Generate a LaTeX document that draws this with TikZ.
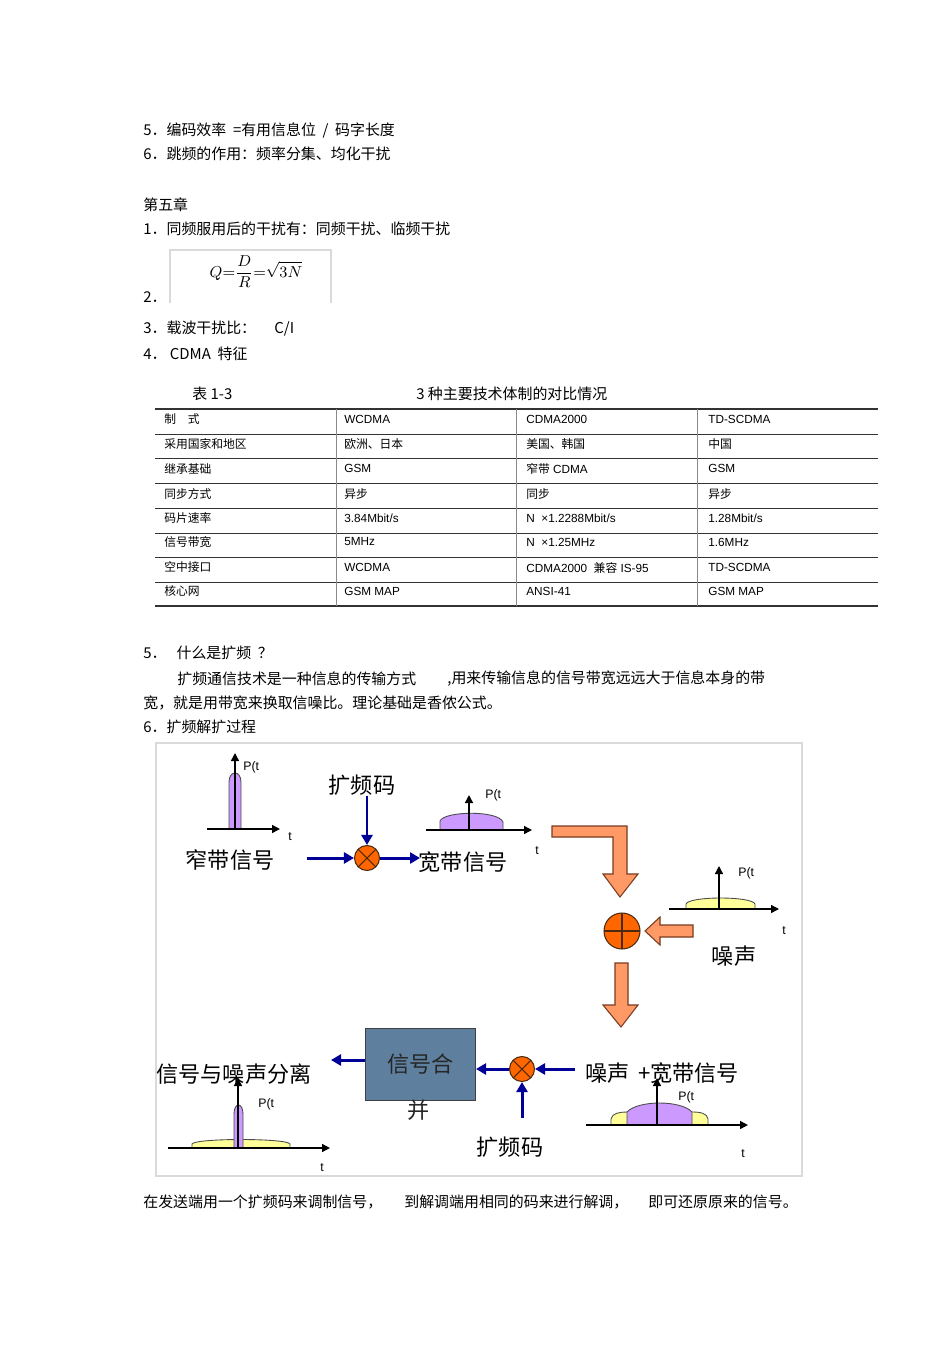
\documentclass[tikz,border=0pt]{standalone}
\usepackage{fontspec}
\setmainfont{Liberation Sans}
\newfontfamily\cjk{Noto Sans CJK SC}
\usepackage{xcolor}
\usetikzlibrary{arrows.meta}
\definecolor{xnavy}{HTML}{000099}
\definecolor{xsalmon}{HTML}{FF9966}
\definecolor{xrust}{HTML}{7A3B1E}
\definecolor{xorange}{HTML}{FF6600}
\definecolor{xdark}{HTML}{4A2A10}
\definecolor{xlilac}{HTML}{CC99FF}
\definecolor{xlemon}{HTML}{FFFF99}
\definecolor{xsteel}{HTML}{5E809E}
\definecolor{xframe}{HTML}{DADADA}
\definecolor{xgray}{HTML}{8A8A8A}

\begin{document}
\begin{tikzpicture}[
    x=0.02cm, y=-0.02cm,
    body/.style={anchor=west, inner sep=0pt, font=\fontsize{8.5}{10}\selectfont\cjk},
    cell/.style={anchor=west, inner sep=0pt, font=\fontsize{6.7}{8}\selectfont},
    big/.style={inner sep=0pt, font=\fontsize{12.6}{15}\selectfont\cjk},
    small/.style={inner sep=0pt, font=\fontsize{7}{8}\selectfont},
    formula/.style={inner sep=0pt, font=\fontsize{9.2}{11}\selectfont},
    pipe/.style={-{Triangle[length=0.2cm,width=0.22cm]}, line width=1.7pt, color=xnavy},
    axis/.style={-{Triangle[length=0.16cm,width=0.16cm]}, line width=0.8pt},
    lobe/.style={fill=#1, draw=black!70, line width=0.5pt},
    blockarrow/.style={fill=xsalmon, draw=xrust, line width=0.6pt},
    mixer/.style={circle, draw=xdark, fill=xorange, line width=0.6pt, minimum size=0.5cm, inner sep=0pt,
        path picture={\draw[xdark, line width=0.6pt]
            (path picture bounding box.north west) -- (path picture bounding box.south east)
            (path picture bounding box.north east) -- (path picture bounding box.south west);}},
    adder/.style={circle, draw=xdark, fill=xorange, line width=0.6pt, minimum size=0.72cm, inner sep=0pt,
        path picture={\draw[xdark, line width=0.6pt]
            (path picture bounding box.west) -- (path picture bounding box.east)
            (path picture bounding box.north) -- (path picture bounding box.south);}},
    rule/.style={line width=#1, color=black!80},
]

\useasboundingbox[fill=white] (0,0) rectangle (950,1345);

% --- Text above the table ---
\node[body] (l5) at (143,130) {5．编码效率 \ =有用信息位 \ / \ 码字长度};
\node[body] (l6) at (143,154) {6．跳频的作用：频率分集、均化干扰};
\node[body] (ch5) at (143,205) {第五章};
\node[body] (c1) at (143,229) {1．同频服用后的干扰有：同频干扰、临频干扰};
\draw[xframe, line width=0.6pt] (170,303) -- (170,250) -- (331,250) -- (331,303);
\node[formula] (qform) at (256,272) {$\displaystyle Q{=}\frac{D}{R}{=}\sqrt{3N}$};
\node[body] (c2) at (143,297) {2．};
\node[body] (c3) at (143,329) {3．载波干扰比： \quad C/I};
\node[body] (c4) at (143,354) {4． CDMA \ 特征};
\node[body] (tabno) at (192,394) {表 1-3};
\node[body] (tabtitle) at (416,394) {3 种主要技术体制的对比情况};

% --- Table ---
\draw[rule=1.1pt] (155,409) -- (878,409);
\foreach \ry in {434,458,483,508,533,557,582}
  \draw[rule=0.5pt] (155,\ry) -- (878,\ry);
\draw[rule=1.1pt] (155,606) -- (878,606);
\foreach \cx in {336,516,697}
  \draw[xgray, line width=0.5pt] (\cx,409) -- (\cx,606);

\node[cell] (r1a) at (164,419) {\cjk 制\quad 式};
\node[cell] (r1b) at (344,419) {WCDMA};
\node[cell] (r1c) at (526,419) {CDMA2000};
\node[cell] (r1d) at (708,419) {TD-SCDMA};
\node[cell] (r2a) at (164,444) {\cjk 采用国家和地区};
\node[cell] (r2b) at (344,444) {\cjk 欧洲、日本};
\node[cell] (r2c) at (526,444) {\cjk 美国、韩国};
\node[cell] (r2d) at (708,444) {\cjk 中国};
\node[cell] (r3a) at (164,469) {\cjk 继承基础};
\node[cell] (r3b) at (344,468) {GSM};
\node[cell] (r3c) at (526,469) {{\cjk 窄带} CDMA};
\node[cell] (r3d) at (708,468) {GSM};
\node[cell] (r4a) at (164,494) {\cjk 同步方式};
\node[cell] (r4b) at (344,494) {\cjk 异步};
\node[cell] (r4c) at (526,494) {\cjk 同步};
\node[cell] (r4d) at (708,494) {\cjk 异步};
\node[cell] (r5a) at (164,518) {\cjk 码片速率};
\node[cell] (r5b) at (344,518) {3.84Mbit/s};
\node[cell] (r5c) at (526,518) {N \ ×1.2288Mbit/s};
\node[cell] (r5d) at (708,518) {1.28Mbit/s};
\node[cell] (r6a) at (164,542) {\cjk 信号带宽};
\node[cell] (r6b) at (344,542) {5MHz};
\node[cell] (r6c) at (526,542) {N \ ×1.25MHz};
\node[cell] (r6d) at (708,542) {1.6MHz};
\node[cell] (r7a) at (164,567) {\cjk 空中接口};
\node[cell] (r7b) at (344,567) {WCDMA};
\node[cell] (r7c) at (526,568) {CDMA2000 \ {\cjk 兼容} IS-95};
\node[cell] (r7d) at (708,567) {TD-SCDMA};
\node[cell] (r8a) at (164,591) {\cjk 核心网};
\node[cell] (r8b) at (344,591) {GSM MAP};
\node[cell] (r8c) at (526,591) {ANSI-41};
\node[cell] (r8d) at (708,591) {GSM MAP};

% --- Text below the table ---
\node[body] (q5) at (143,653) {5． \ \ 什么是扩频 \ ？};
\node[body] (p1a) at (177,679) {扩频通信技术是一种信息的传输方式};
\node[body] (p1b) at (447,679) {,用来传输信息的信号带宽远远大于信息本身的带};
\node[body] (p2) at (143,703) {宽，就是用带宽来换取信噪比。理论基础是香侬公式。};
\node[body] (q6) at (143,727) {6．扩频解扩过程};

% --- Diagram frame ---
\draw[xframe, line width=0.6pt] (156,743) rectangle (802,1176);

% --- Spectra ---
% narrowband
\draw[lobe=xlilac] (229,829) -- (229,782) .. controls (229,770) and (241,770) .. (241,782) -- (241,829) -- cycle;
\draw[axis] (207,829) -- (280,829);
\draw[axis] (235,829) -- (235,753);
\node[small, anchor=west] (pt1) at (243,767) {P(t};
\node[small] (t1) at (290,837) {t};
% wideband
\draw[lobe=xlilac] (440,830) -- (440,821) .. controls (444,811) and (498,810) .. (503,822) -- (503,830) -- cycle;
\draw[axis] (426,830) -- (532,830);
\draw[axis] (469,830) -- (469,795);
\node[small, anchor=west] (pt2) at (485,795) {P(t};
\node[small] (t2) at (537,851) {t};
% noise
\draw[lobe=xlemon] (686,909) -- (686,904) .. controls (689,896) and (752,896) .. (755,904) -- (755,909) -- cycle;
\draw[axis] (669,909) -- (779,909);
\draw[axis] (719,909) -- (719,866);
\node[small, anchor=west] (pt3) at (738,873) {P(t};
\node[small] (t3) at (784,931) {t};
% noise + wideband
\draw[lobe=xlemon] (611,1125) -- (611,1119) .. controls (612,1113) and (620,1112) .. (627,1112) -- (692,1112) .. controls (700,1112) and (707,1113) .. (708,1119) -- (708,1125) -- cycle;
\draw[lobe=xlilac] (627,1125) -- (627,1112) .. controls (638,1100) and (681,1100) .. (692,1112) -- (692,1125) -- cycle;
\draw[axis] (586,1125) -- (748,1125);
\draw[axis] (657,1125) -- (657,1078);
\node[small, anchor=west] (pt4) at (678,1097) {P(t};
\node[small] (t4) at (743,1154) {t};
% despread
\draw[lobe=xlemon] (192,1148) -- (192,1144) .. controls (195,1138) and (287,1138) .. (290,1144) -- (290,1148) -- cycle;
\draw[lobe=xlilac] (234,1148) -- (234,1114) .. controls (234,1102) and (243,1102) .. (243,1114) -- (243,1148) -- cycle;
\draw[axis] (168,1148) -- (330,1148);
\draw[axis] (238,1148) -- (238,1078);
\node[small, anchor=west] (pt5) at (258,1104) {P(t};
\node[small] (t5) at (322,1168) {t};

% --- Spreading ---
\node[big] (narrow) at (230,860) {窄带信号};
\node[big] (code1) at (362,785) {扩频码};
\node[mixer] (mix1) at (367,858) {};
\node[big] (wide) at (463,862) {宽带信号};
\coordinate (nbout) at (307,858);
\coordinate (wbin) at (420,858);
\draw[pipe] (nbout) -- (mix1);
\draw[pipe] (code1.south -| mix1) -- (mix1);
\draw[pipe] (mix1) -- (wbin);

% --- Channel ---
\node[adder] (sum) at (622,931) {};
\node[big] (noise) at (734,956) {噪声};
\draw[blockarrow] (552,826) -- (627,826) -- (627,874) -- (638,874) -- (620,897) -- (603,874) -- (613,874) -- (613,837) -- (552,837) -- cycle;
\draw[blockarrow] (693,925) -- (660,925) -- (660,917) -- (645,931) -- (660,945) -- (660,937) -- (693,937) -- cycle;
\draw[blockarrow] (615,963) -- (628,963) -- (628,1005) -- (638,1005) -- (621,1027) -- (603,1005) -- (615,1005) -- cycle;

% --- Despreading ---
\node[big, anchor=west] (rx) at (585,1073) {噪声 \,+宽带信号};
\node[mixer] (mix2) at (522,1069) {};
\node[big] (code2) at (510,1147) {扩频码};
\node[draw=black!75, fill=xsteel, line width=0.6pt, minimum width=2.2cm, minimum height=1.44cm,
      big, text=black!85, anchor=north west] (merge) at (365,1028) {信号合};
\node[big, text=black!85] (merge2) at (419,1110) {并};
\node[big] (sep) at (234,1074) {信号与噪声分离};
\coordinate (rxin) at (575,1069);
\coordinate (codein) at (522,1118);
\coordinate (sepin) at (331,1060);
\draw[pipe] (rxin) -- (mix2);
\draw[pipe] (codein) -- (mix2);
\draw[pipe] (mix2) -- (mix2 -| merge.east);
\draw[pipe] (merge.west |- sepin) -- (sepin);

% --- Closing line ---
\node[body] (e1) at (143,1202) {在发送端用一个扩频码来调制信号，};
\node[body] (e2) at (404,1202) {到解调端用相同的码来进行解调，};
\node[body] (e3) at (648,1202) {即可还原原来的信号。};

\end{tikzpicture}
\end{document}
